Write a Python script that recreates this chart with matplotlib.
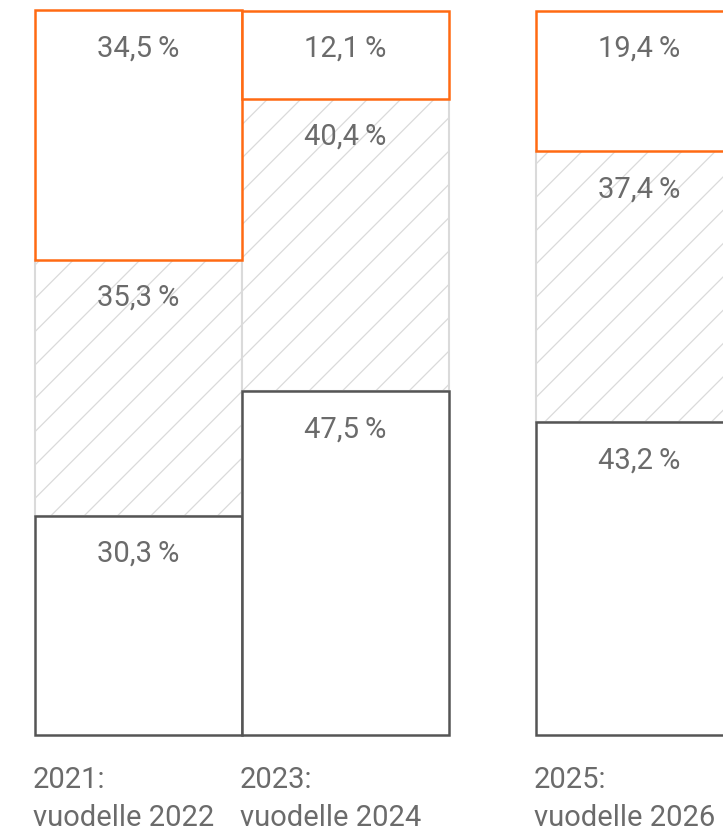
import matplotlib.pyplot as plt

# Data
periods = ["2021:", "2023:", "2025:"]
targets = ["vuodelle 2022", "vuodelle 2024", "vuodelle 2026"]
lower = [30.3, 47.5, 43.2]
middle = [35.3, 40.4, 37.4]
upper = [34.5, 12.1, 19.4]

# Bar positions (third bar is set apart and runs off the right edge)
x_pos = [0, 1, 2.42]

orange = "#ff6a13"
dark = "#555555"
light = "#dadada"
text_col = "#6b6b6b"

plt.rcParams["font.family"] = ["Roboto", "DejaVu Sans"]
plt.rcParams["hatch.linewidth"] = 0.9

fig = plt.figure(figsize=(7.23, 8.36), dpi=100)
ax = fig.add_axes([35 / 723, 101 / 836, 1 - 35 / 723, 724 / 836])

mid_bottom = [a for a in lower]
top_bottom = [a + b for a, b in zip(lower, middle)]

ax.bar(x_pos, middle, width=1, bottom=mid_bottom, align="edge", color="white",
       edgecolor=light, hatch="/", linewidth=1.5, clip_on=False, zorder=1)
ax.bar(x_pos, lower, width=1, align="edge", color="white",
       edgecolor=dark, linewidth=1.8, clip_on=False, zorder=2)
ax.bar(x_pos, upper, width=1, bottom=top_bottom, align="edge", color="white",
       edgecolor=orange, linewidth=1.8, clip_on=False, zorder=3)

# Value labels near the top of each segment
for i, x in enumerate(x_pos):
    for val, top in [(lower[i], lower[i]),
                     (middle[i], lower[i] + middle[i]),
                     (upper[i], lower[i] + middle[i] + upper[i])]:
        label = f"{val:.1f}".replace(".", ",") + "\u2009%"
        ax.annotate(label, xy=(x + 0.5, top), xytext=(0, -46),
                    textcoords="offset pixels", ha="center", va="baseline",
                    fontsize=21, color=text_col, zorder=5,
                    annotation_clip=False)

# Category labels under the bars
for i, x in enumerate(x_pos):
    ax.annotate(periods[i], xy=(x, 0), xytext=(-2, -53), textcoords="offset pixels",
                ha="left", va="baseline", fontsize=21,
                color=text_col, annotation_clip=False)
    ax.annotate(targets[i], xy=(x, 0), xytext=(-2, -91), textcoords="offset pixels",
                ha="left", va="baseline", fontsize=21,
                color=text_col, annotation_clip=False)

ax.set_xlim(0, (723 - 35) / 207)
ax.set_ylim(0, 100)
ax.axis("off")

fig.savefig("out.png", dpi=100)
